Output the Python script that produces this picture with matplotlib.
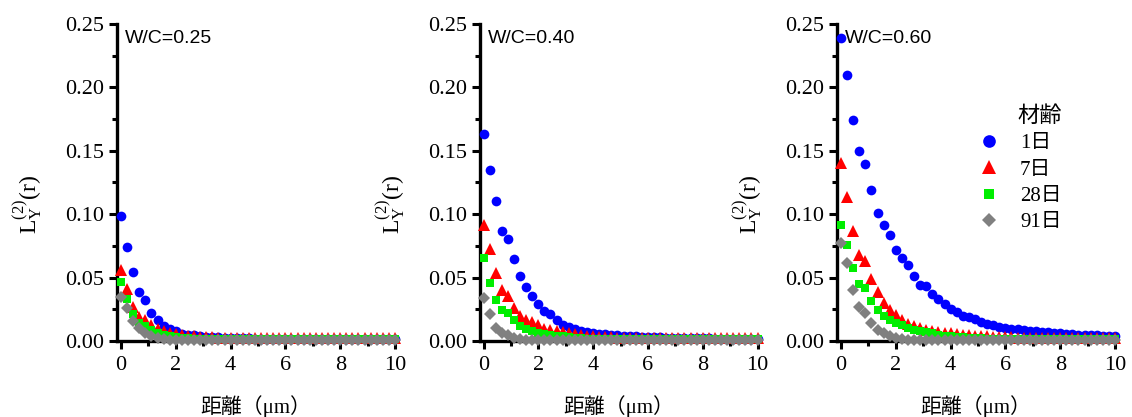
import matplotlib
matplotlib.use("Agg")
import matplotlib.pyplot as plt
from matplotlib.ticker import MultipleLocator, FormatStrFormatter
from matplotlib.font_manager import FontProperties

plt.rcParams['mathtext.fontset'] = 'custom'
plt.rcParams['mathtext.rm'] = 'Liberation Serif'
plt.rcParams['mathtext.it'] = 'Liberation Serif:italic'

# distance grid (um)
distance = [0.000, 0.222, 0.444, 0.667, 0.889, 1.111, 1.333, 1.556, 1.778, 2.000,
            2.222, 2.444, 2.667, 2.889, 3.111, 3.333, 3.556, 3.778, 4.000, 4.222,
            4.444, 4.667, 4.889, 5.111, 5.333, 5.556, 5.778, 6.000, 6.222, 6.444,
            6.667, 6.889, 7.111, 7.333, 7.556, 7.778, 8.000, 8.222, 8.444, 8.667,
            8.889, 9.111, 9.333, 9.556, 9.778, 10.000]

panel_titles = ["W/C=0.25", "W/C=0.40", "W/C=0.60"]
ages = ["1日", "7日", "28日", "91日"]

# W/C = 0.25
wc025_d1 = [0.0986, 0.0741, 0.0544, 0.0386, 0.0326, 0.0224, 0.0163, 0.0116, 0.0092, 0.0076,
            0.0058, 0.0050, 0.0045, 0.0040, 0.0035, 0.0031, 0.0028, 0.0026, 0.0024, 0.0022,
            0.0021, 0.0020, 0.0019, 0.0018, 0.0017, 0.0016, 0.0016, 0.0015, 0.0015, 0.0015,
            0.0014, 0.0014, 0.0014, 0.0014, 0.0013, 0.0013, 0.0013, 0.0013, 0.0013, 0.0013,
            0.0012, 0.0012, 0.0012, 0.0012, 0.0012, 0.0012]
wc025_d7 = [0.0558, 0.0410, 0.0268, 0.0190, 0.0163, 0.0124, 0.0092, 0.0076, 0.0065, 0.0055,
            0.0048, 0.0042, 0.0037, 0.0033, 0.0030, 0.0028, 0.0026, 0.0025, 0.0024, 0.0023,
            0.0022, 0.0022, 0.0022, 0.0022, 0.0022, 0.0022, 0.0022, 0.0022, 0.0022, 0.0022,
            0.0022, 0.0022, 0.0022, 0.0022, 0.0022, 0.0022, 0.0022, 0.0022, 0.0022, 0.0022,
            0.0022, 0.0022, 0.0022, 0.0022, 0.0022, 0.0022]
wc025_d28 = [0.0465, 0.0334, 0.0210, 0.0142, 0.0118, 0.0090, 0.0065, 0.0050, 0.0040, 0.0032,
             0.0026, 0.0022, 0.0019, 0.0017, 0.0015, 0.0014, 0.0013, 0.0013, 0.0012, 0.0012,
             0.0012, 0.0012, 0.0012, 0.0012, 0.0012, 0.0012, 0.0012, 0.0012, 0.0012, 0.0012,
             0.0012, 0.0012, 0.0012, 0.0012, 0.0012, 0.0012, 0.0012, 0.0012, 0.0012, 0.0012,
             0.0012, 0.0012, 0.0012, 0.0012, 0.0012, 0.0012]
wc025_d91 = [0.0350, 0.0260, 0.0157, 0.0102, 0.0065, 0.0038, 0.0024, 0.0015, 0.0010, 0.0008,
             0.0008, 0.0008, 0.0008, 0.0008, 0.0008, 0.0008, 0.0008, 0.0008, 0.0008, 0.0008,
             0.0008, 0.0008, 0.0008, 0.0008, 0.0008, 0.0008, 0.0008, 0.0008, 0.0008, 0.0008,
             0.0008, 0.0008, 0.0008, 0.0008, 0.0008, 0.0008, 0.0008, 0.0008, 0.0008, 0.0008,
             0.0008, 0.0008, 0.0008, 0.0008, 0.0008, 0.0008]

# W/C = 0.40
wc040_d1 = [0.1630, 0.1346, 0.1104, 0.0865, 0.0802, 0.0648, 0.0515, 0.0426, 0.0358, 0.0290,
            0.0237, 0.0210, 0.0167, 0.0128, 0.0114, 0.0098, 0.0079, 0.0068, 0.0063, 0.0058,
            0.0054, 0.0050, 0.0046, 0.0043, 0.0040, 0.0037, 0.0034, 0.0032, 0.0030, 0.0028,
            0.0026, 0.0025, 0.0024, 0.0023, 0.0022, 0.0021, 0.0020, 0.0020, 0.0019, 0.0019,
            0.0018, 0.0018, 0.0018, 0.0017, 0.0017, 0.0017]
wc040_d7 = [0.0915, 0.0729, 0.0538, 0.0400, 0.0355, 0.0259, 0.0197, 0.0166, 0.0150, 0.0124,
            0.0098, 0.0090, 0.0080, 0.0070, 0.0060, 0.0053, 0.0047, 0.0042, 0.0037, 0.0033,
            0.0030, 0.0028, 0.0026, 0.0025, 0.0024, 0.0023, 0.0022, 0.0022, 0.0022, 0.0022,
            0.0022, 0.0022, 0.0022, 0.0022, 0.0022, 0.0022, 0.0022, 0.0022, 0.0022, 0.0022,
            0.0022, 0.0022, 0.0022, 0.0022, 0.0022, 0.0022]
wc040_d28 = [0.0658, 0.0457, 0.0321, 0.0248, 0.0221, 0.0169, 0.0118, 0.0098, 0.0079, 0.0062,
             0.0055, 0.0048, 0.0042, 0.0036, 0.0030, 0.0025, 0.0021, 0.0018, 0.0016, 0.0015,
             0.0014, 0.0013, 0.0012, 0.0012, 0.0012, 0.0012, 0.0012, 0.0012, 0.0012, 0.0012,
             0.0012, 0.0012, 0.0012, 0.0012, 0.0012, 0.0012, 0.0012, 0.0012, 0.0012, 0.0012,
             0.0012, 0.0012, 0.0012, 0.0012, 0.0012, 0.0012]
wc040_d91 = [0.0343, 0.0213, 0.0102, 0.0062, 0.0045, 0.0022, 0.0012, 0.0009, 0.0008, 0.0008,
             0.0008, 0.0008, 0.0008, 0.0008, 0.0008, 0.0008, 0.0008, 0.0008, 0.0008, 0.0008,
             0.0008, 0.0008, 0.0008, 0.0008, 0.0008, 0.0008, 0.0008, 0.0008, 0.0008, 0.0008,
             0.0008, 0.0008, 0.0008, 0.0008, 0.0008, 0.0008, 0.0008, 0.0008, 0.0008, 0.0008,
             0.0008, 0.0008, 0.0008, 0.0008, 0.0008, 0.0008]

# W/C = 0.60
wc060_d1 = [0.2393, 0.2095, 0.1740, 0.1498, 0.1399, 0.1188, 0.1013, 0.0915, 0.0834, 0.0721,
            0.0655, 0.0597, 0.0510, 0.0445, 0.0434, 0.0374, 0.0329, 0.0290, 0.0256, 0.0229,
            0.0200, 0.0190, 0.0173, 0.0150, 0.0137, 0.0124, 0.0110, 0.0105, 0.0098, 0.0092,
            0.0085, 0.0080, 0.0076, 0.0071, 0.0068, 0.0064, 0.0060, 0.0057, 0.0054, 0.0051,
            0.0049, 0.0046, 0.0044, 0.0042, 0.0040, 0.0038]
wc060_d7 = [0.1404, 0.1136, 0.0865, 0.0676, 0.0629, 0.0487, 0.0387, 0.0303, 0.0248, 0.0203,
            0.0169, 0.0137, 0.0116, 0.0103, 0.0090, 0.0082, 0.0074, 0.0067, 0.0060, 0.0055,
            0.0050, 0.0046, 0.0043, 0.0040, 0.0037, 0.0034, 0.0032, 0.0030, 0.0028, 0.0027,
            0.0026, 0.0025, 0.0024, 0.0024, 0.0023, 0.0023, 0.0022, 0.0022, 0.0022, 0.0022,
            0.0022, 0.0022, 0.0022, 0.0022, 0.0022, 0.0022]
wc060_d28 = [0.0915, 0.0760, 0.0575, 0.0448, 0.0417, 0.0318, 0.0245, 0.0200, 0.0169, 0.0142,
             0.0124, 0.0106, 0.0090, 0.0078, 0.0068, 0.0060, 0.0050, 0.0043, 0.0037, 0.0032,
             0.0028, 0.0025, 0.0022, 0.0020, 0.0018, 0.0017, 0.0016, 0.0015, 0.0014, 0.0013,
             0.0012, 0.0012, 0.0012, 0.0012, 0.0012, 0.0012, 0.0012, 0.0012, 0.0012, 0.0012,
             0.0012, 0.0012, 0.0012, 0.0012, 0.0012, 0.0012]
wc060_d91 = [0.0776, 0.0619, 0.0406, 0.0268, 0.0222, 0.0143, 0.0090, 0.0064, 0.0041, 0.0027,
             0.0015, 0.0011, 0.0009, 0.0008, 0.0008, 0.0008, 0.0008, 0.0008, 0.0008, 0.0008,
             0.0008, 0.0008, 0.0008, 0.0008, 0.0008, 0.0008, 0.0008, 0.0008, 0.0008, 0.0008,
             0.0008, 0.0008, 0.0008, 0.0008, 0.0008, 0.0008, 0.0008, 0.0008, 0.0008, 0.0008,
             0.0008, 0.0008, 0.0008, 0.0008, 0.0008, 0.0008]

panels = [
    [wc025_d1, wc025_d7, wc025_d28, wc025_d91],
    [wc040_d1, wc040_d7, wc040_d28, wc040_d91],
    [wc060_d1, wc060_d7, wc060_d28, wc060_d91],
]

styles = [
    dict(marker='o', color='#0000FF', ms=7.0),
    dict(marker='^', color='#FF0000', ms=8.0),
    dict(marker='s', color='#00EE00', ms=6.0),
    dict(marker='D', color='#808080', ms=5.8),
]

W, H = 1132, 417
fig = plt.figure(figsize=(W / 100, H / 100), dpi=100)

ax_lefts = [117, 479.5, 837]
ax_width = 278
ax_bottom = H - 341
ax_height = 317

serif = 'Liberation Serif'
cjk_fams = ['Liberation Serif', 'Noto Sans CJK JP']

axes = []
for i, series in enumerate(panels):
    ax = fig.add_axes([ax_lefts[i] / W, ax_bottom / H, ax_width / W, ax_height / H])
    axes.append(ax)
    for vals, st, lab in zip(series, styles, ages):
        ax.plot(distance, vals, linestyle='none', marker=st['marker'], color=st['color'],
                markersize=st['ms'], markeredgewidth=0, clip_on=False, zorder=3, label=lab)
    ax.set_xlim(-0.146, 10)
    ax.set_ylim(0, 0.25)
    for s in ['top', 'right']:
        ax.spines[s].set_visible(False)
    for s in ['left', 'bottom']:
        ax.spines[s].set_linewidth(2.4)
    ax.xaxis.set_major_locator(MultipleLocator(2))
    ax.xaxis.set_minor_locator(MultipleLocator(1))
    ax.yaxis.set_major_locator(MultipleLocator(0.05))
    ax.yaxis.set_minor_locator(MultipleLocator(0.025))
    ax.yaxis.set_major_formatter(FormatStrFormatter('%.2f'))
    ax.tick_params(which='major', direction='out', length=6, width=2.2, pad=3)
    ax.tick_params(which='minor', direction='out', length=3.5, width=2.2)
    ax.tick_params(axis='x', which='major', pad=5)
    for lbl in ax.get_xticklabels() + ax.get_yticklabels():
        lbl.set_fontfamily(serif)
        lbl.set_fontsize(16)
    ax.set_xlabel('距離（μm）', family=cjk_fams, fontsize=15)
    ax.xaxis.set_label_coords(0.5, -0.172)
    ax.set_ylabel(r'$\mathrm{L_Y^{(2)}(r)}$', fontsize=17)
    ax.yaxis.set_label_coords(-0.262, 0.43)
    ax.text(0.03, 0.955, panel_titles[i], transform=ax.transAxes, ha='left', va='center',
            family='Liberation Sans', fontsize=14)

leg = axes[2].legend(title='材齢', loc='upper left', bbox_to_anchor=(968 / W, (H - 96) / H),
                     bbox_transform=fig.transFigure, frameon=False,
                     prop=FontProperties(family=cjk_fams, size=15),
                     title_fontproperties=FontProperties(family=cjk_fams, size=16),
                     handlelength=1.0, handletextpad=1.0, labelspacing=0.32, borderpad=0,
                     markerscale=1.3, alignment='right')

fig.savefig('out.png', dpi=100)
